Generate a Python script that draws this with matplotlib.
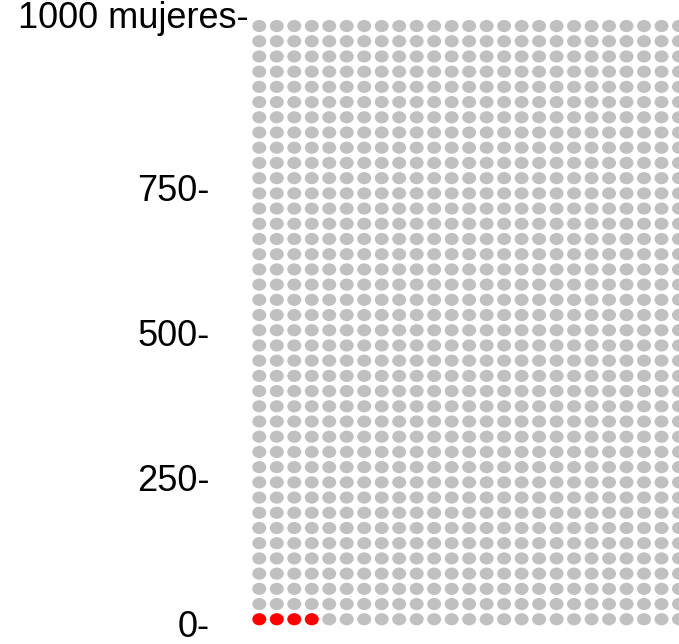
import matplotlib
matplotlib.use("Agg")
import matplotlib.pyplot as plt
from matplotlib.patches import Ellipse

# data
total_women = 1000
affected_women = 4
n_cols = 25
tick_values = [0, 250, 500, 750]
tick_labels = ["0-", "250-", "500-", "750-"]
top_label = "1000 mujeres-"

plt.rcParams["font.family"] = ["Liberation Sans", "DejaVu Sans"]

fig = plt.figure(figsize=(6.79, 6.44), dpi=100)
ax = fig.add_axes([0.369, 0.0148, 0.631, 0.9684])

n_rows = total_women // n_cols
for i in range(total_women):
    row = i // n_cols
    col = i % n_cols
    color = "#ff0000" if i < affected_women else "#c0c0c0"
    ax.add_patch(Ellipse((col, row), 0.8, 0.8, facecolor=color, edgecolor="none"))

ax.set_xlim(-0.5, n_cols - 1)
ax.set_ylim(-1, n_rows)
ax.axis("off")

# tick labels (baseline positions in row units)
for v, lab in zip(tick_values, tick_labels):
    y = v / 25 * 0.955 - 1.15
    ax.text(-2.82, y, lab, ha="right", va="baseline", fontsize=26, clip_on=False)
ax.text(-0.63, n_rows - 1.15, top_label, ha="right", va="baseline", fontsize=26, clip_on=False)

fig.savefig("out.png", dpi=100)
